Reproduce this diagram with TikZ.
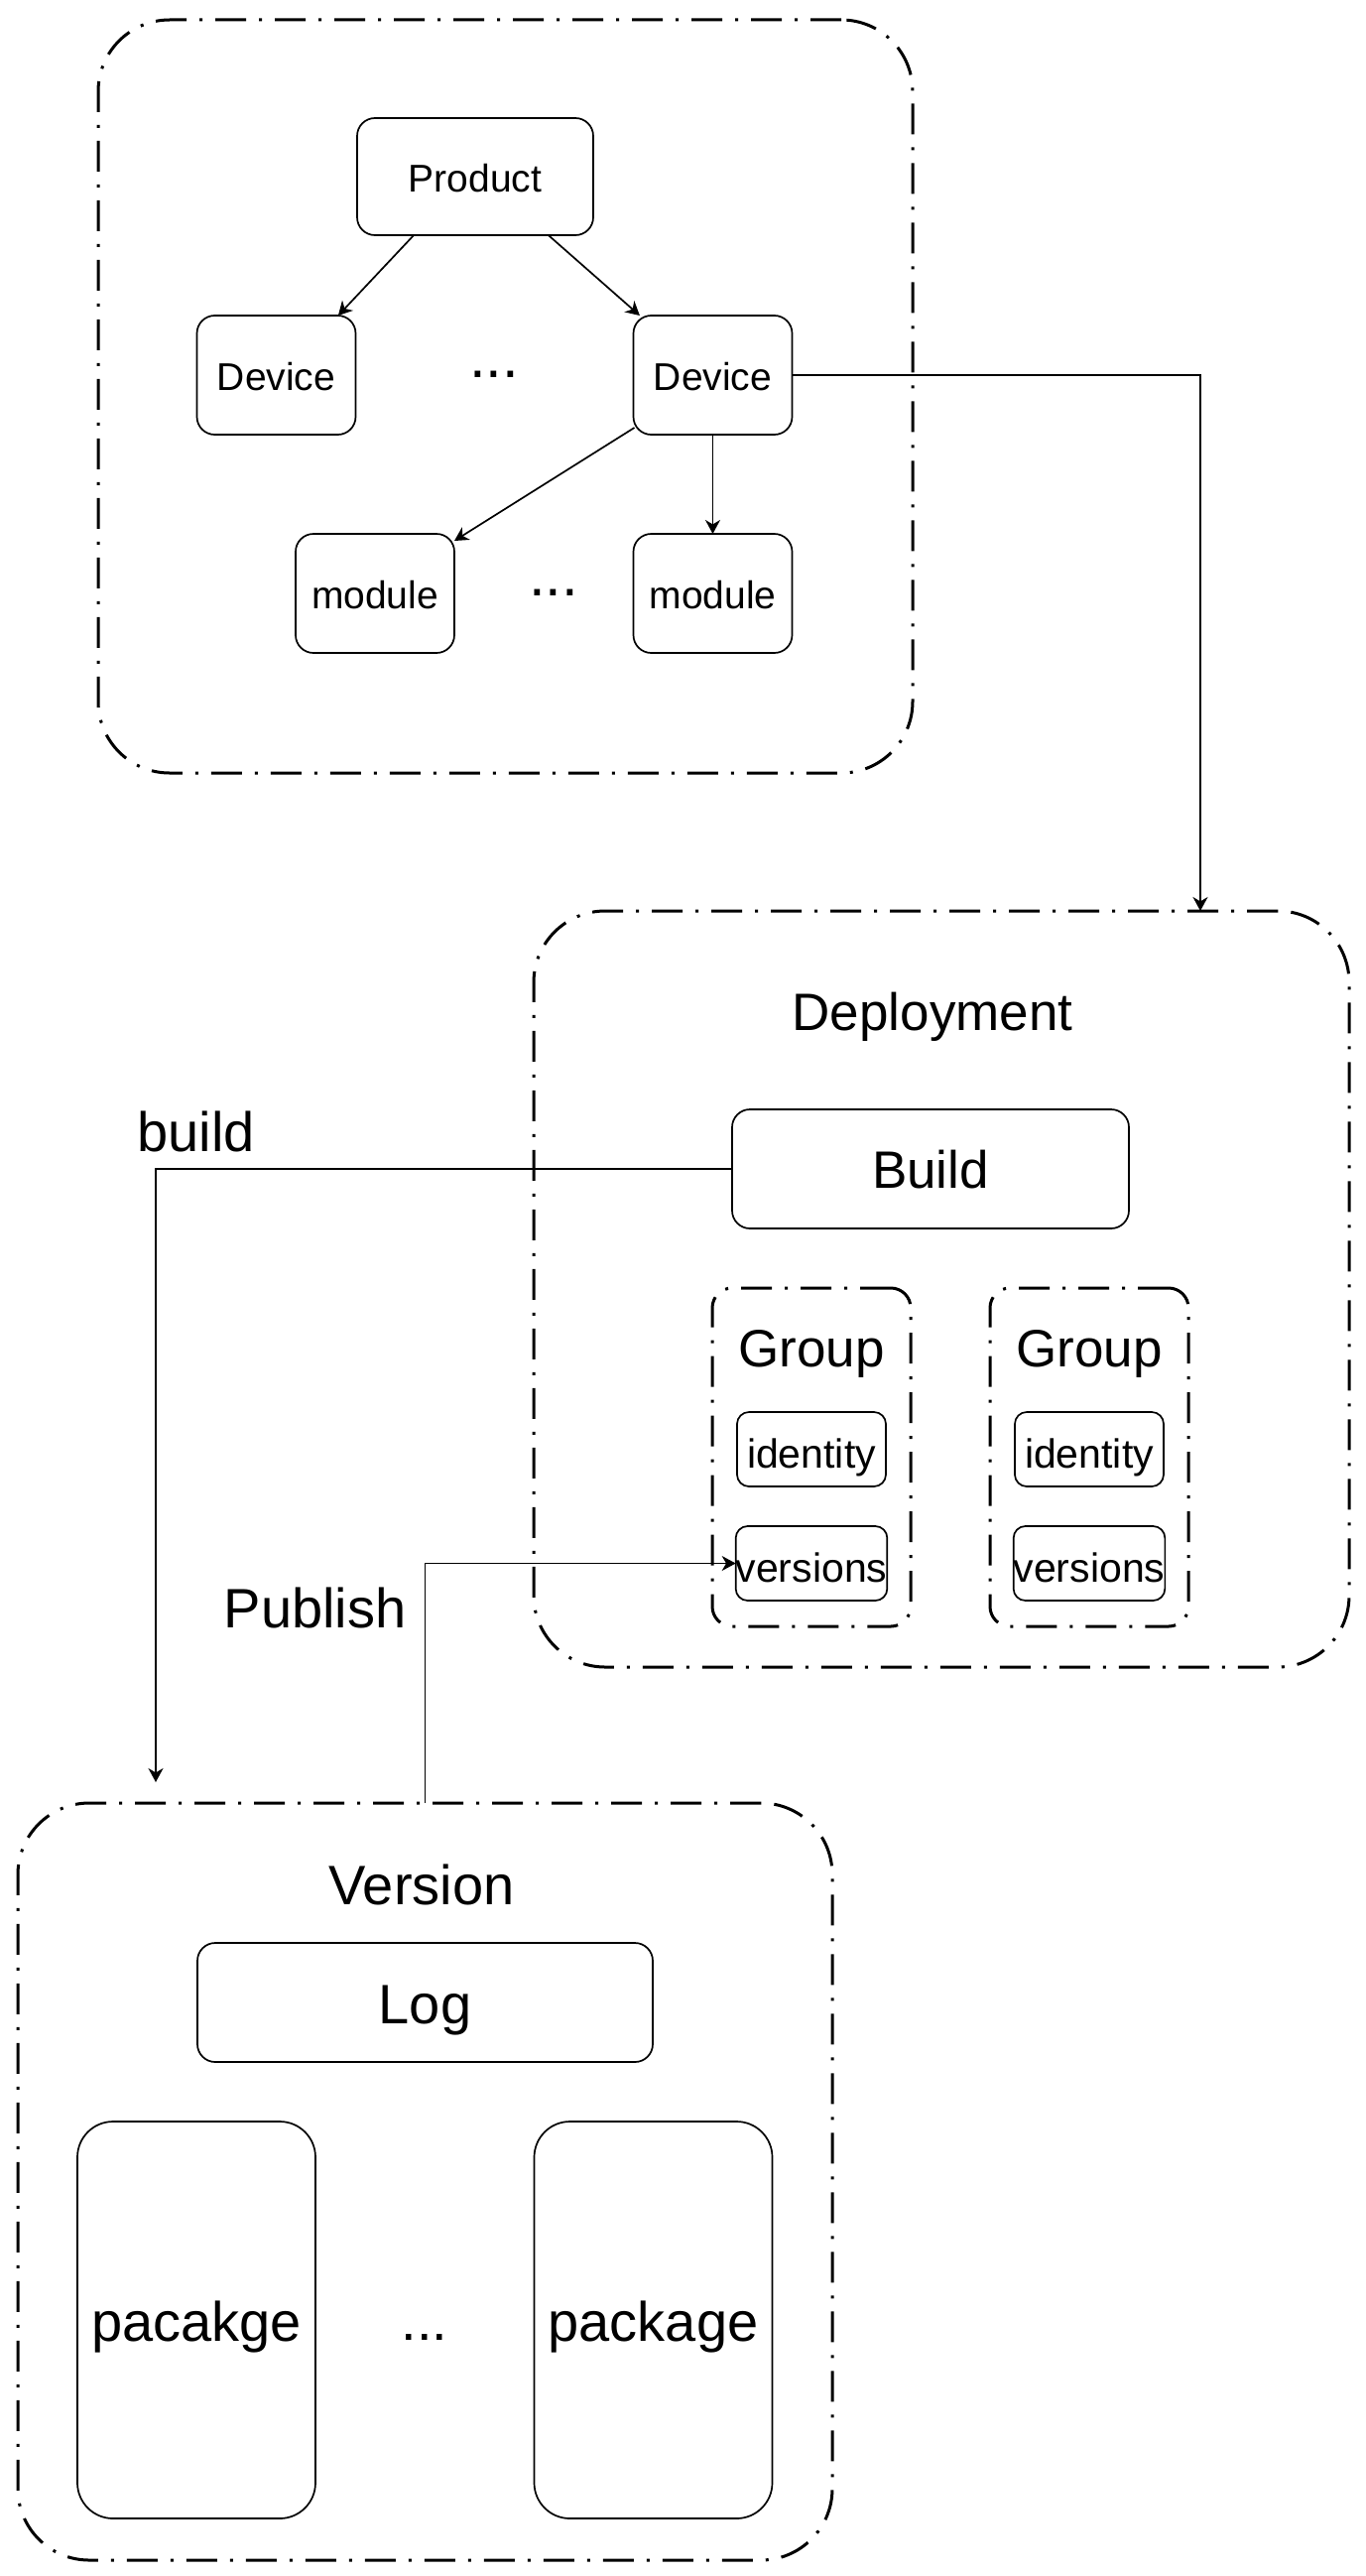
\documentclass[tikz,border=0pt]{standalone}
\usepackage{fontspec}
\setmainfont{Liberation Sans}
\usetikzlibrary{arrows.meta,calc}
\newcommand\setfs[1]{\fontsize{#1}{#1}\selectfont}
\begin{document}
\begin{tikzpicture}[x=0.5pt,y=-0.5pt,
  every node/.style={inner sep=0pt,outer sep=0pt},
  cont/.style={draw, line width=1.5pt, dash pattern=on 15.5pt off 6.5pt on 1.5pt off 6.5pt, rounded corners=36pt},
  grp/.style={draw, line width=1.5pt, dash pattern=on 15.5pt off 6.5pt on 1.5pt off 6.5pt, rounded corners=10pt},
  box/.style={draw, line width=0.85pt, rounded corners=9pt, align=center, text depth=0pt},
  smallbox/.style={box, rounded corners=6pt},
  tallbox/.style={box, rounded corners=18pt},
  ftA/.style={font=\setfs{19.5pt}, text height=15.6pt},
  ftB/.style={font=\setfs{26.5pt}, text height=19.6pt},
  ftC/.style={font=\setfs{20.5pt}, text height=18.9pt},
  ftD/.style={font=\setfs{28pt}, text height=21.3pt},
  lbl/.style={anchor=base, text height=, text depth=},
  arr/.style={-{Stealth[length=7pt,width=7.5pt,inset=2.2pt]}, line width=0.85pt}
]
\useasboundingbox (0,0) rectangle (1376,2596);
\fill[white] (0,0) rectangle (1376,2596);

% ---------- top container ----------
\node[cont, minimum width=410.5pt, minimum height=379.5pt] (top) at (509.5,399.5) {};
\node[box, ftA, minimum width=119pt, minimum height=59pt] (prod) at (479,178) {Product};
\node[box, ftA, minimum width=80pt, minimum height=60pt] (devL) at (278.5,378) {Device};
\node[box, ftA, minimum width=80pt, minimum height=60pt] (devR) at (718.5,378) {Device};
\node[box, ftA, minimum width=80pt, minimum height=60pt] (modL) at (378,598) {module};
\node[box, ftA, minimum width=80pt, minimum height=60pt] (modR) at (718.5,598) {module};
\node[anchor=base, font=\setfs{30pt}] (dots1) at (498,380) {...};
\node[anchor=base, font=\setfs{30pt}] (dots2) at (558,600) {...};

\draw[arr] ($(prod.south west)!0.24!(prod.south east)$) -- ($(devL.north west)!0.89!(devL.north east)$);
\draw[arr] ($(prod.south west)!0.81!(prod.south east)$) -- ($(devR.north west)!0.04!(devR.north east)$);
\draw[arr] ($(devR.south west)+(1,-7)$) -- ($(modL.north east)+(0,7)$);
\draw[arr] (devR.south) -- (modR.north);

% ---------- deployment container ----------
\node[cont, minimum width=411pt, minimum height=381pt] (deploy) at (949,1299) {};
\node[anchor=base, font=\setfs{26.5pt}] (deptitle) at (940,1038) {Deployment};
\node[box, ftB, minimum width=200pt, minimum height=60pt] (build) at (938,1178) {Build};
\node[grp, minimum width=100pt, minimum height=170.5pt] (grp1) at (818,1468.5) {};
\node[grp, minimum width=100pt, minimum height=170.5pt] (grp2) at (1098,1468.5) {};
\node[anchor=base, font=\setfs{26.5pt}] (g1title) at (818,1377) {Group};
\node[anchor=base, font=\setfs{26.5pt}] (g2title) at (1098,1377) {Group};
\node[smallbox, ftC, minimum width=75pt, minimum height=37.5pt] (id1) at (818,1460.5) {identity};
\node[smallbox, ftC, minimum width=75pt, minimum height=37.5pt] (id2) at (1098,1460.5) {identity};
\node[smallbox, ftC, minimum width=75pt, minimum height=37.5pt] (ver1) at (818,1575.5) {versions};
\node[smallbox, ftC, minimum width=75pt, minimum height=37.5pt] (ver2) at (1098,1575.5) {versions};

\draw[arr] (devR.east) -| ($(deploy.north west)+(672,0)$);

% ---------- version container ----------
\node[cont, minimum width=410.5pt, minimum height=381.5pt] (vers) at (428.5,2198.5) {};
\node[anchor=base, font=\setfs{28pt}] (vtitle) at (425,1919) {Version};
\node[box, ftD, minimum width=229.5pt, minimum height=60pt] (log) at (428.5,2018) {Log};
\node[tallbox, ftD, minimum width=120pt, minimum height=200pt] (pkgL) at (198,2338) {pacakge};
\node[tallbox, ftD, minimum width=120pt, minimum height=200pt] (pkgR) at (658.5,2338) {package};
\node[anchor=base, font=\setfs{28pt}] (dots3) at (428,2358) {...};

% ---------- build / publish ----------
\coordinate (bEnd) at (157,1796);
\draw[arr] (build.west) -| (bEnd);
\node[anchor=base, font=\setfs{28pt}] (buildlbl) at (197.5,1160) {build};

\draw[arr] (vers.north) |- (ver1.west);
\node[anchor=base, font=\setfs{28pt}] (publbl) at (317.5,1640) {Publish};

\end{tikzpicture}
\end{document}
